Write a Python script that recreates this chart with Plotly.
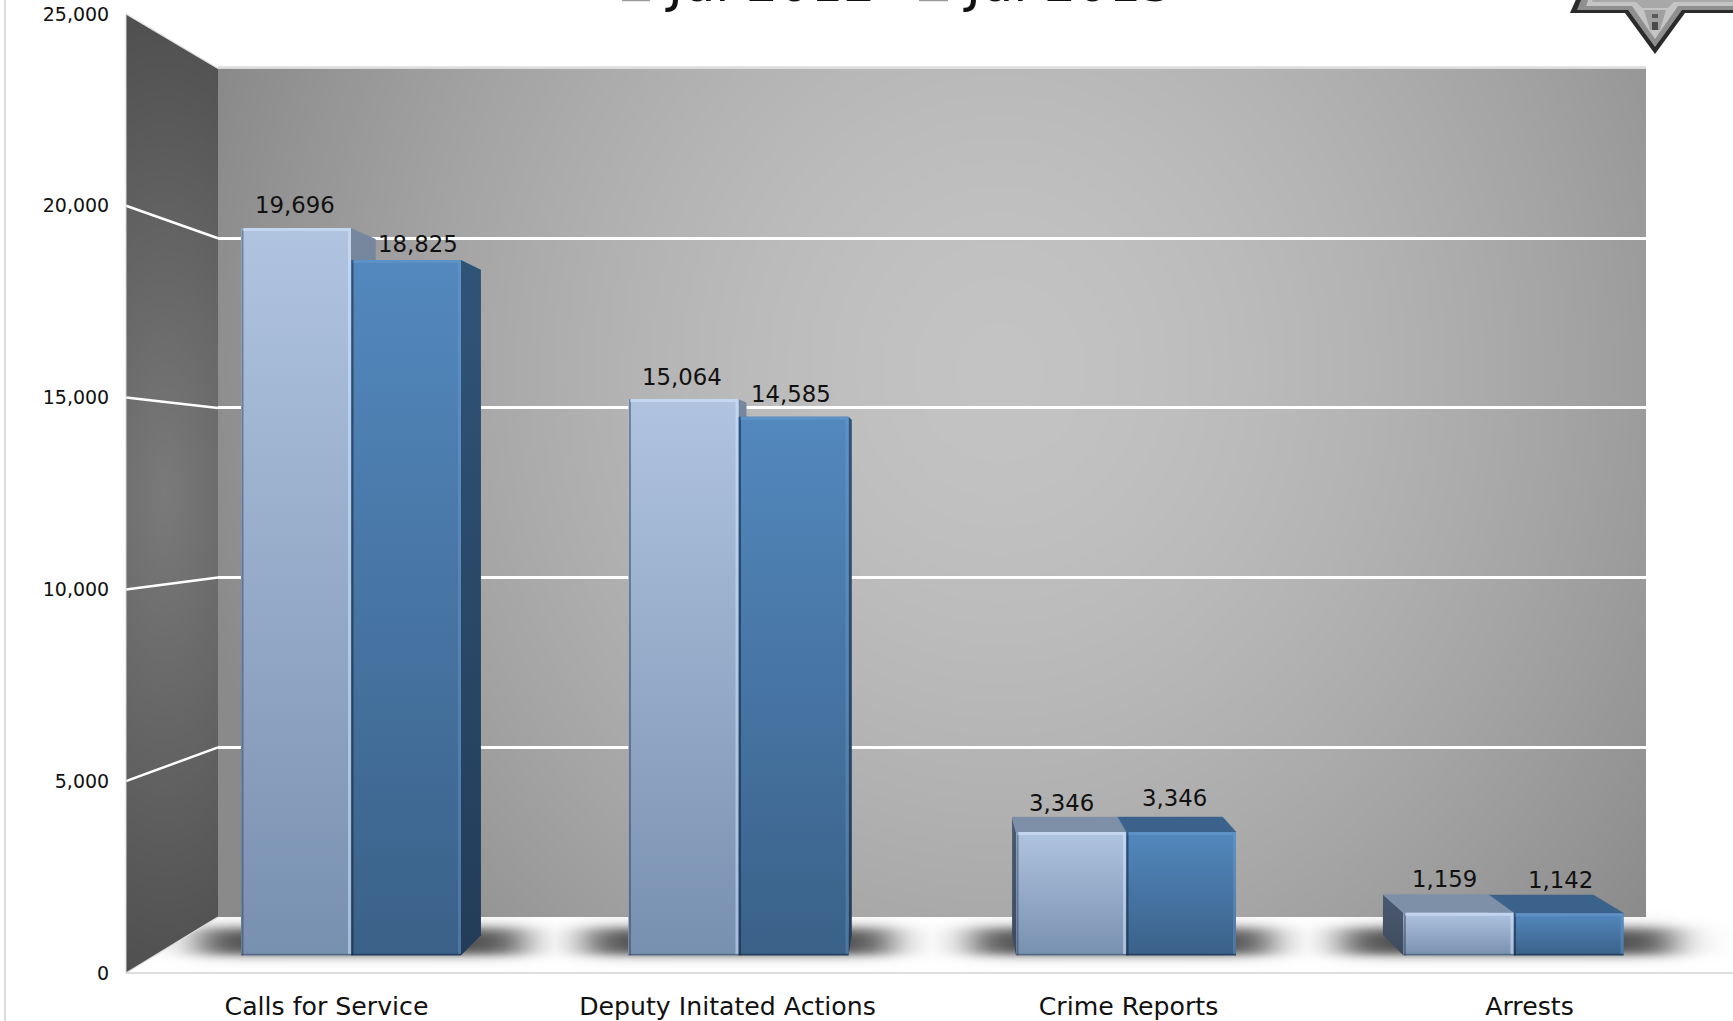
import base64, struct, zlib
import numpy as np
import plotly.graph_objects as go

# ---------- chart data ----------
categories = ["Calls for Service", "Deputy Initated Actions", "Crime Reports", "Arrests"]
jul_2012 = [19696, 15064, 3346, 1159]
jul_2013 = [18825, 14585, 3346, 1142]
y_ticks = [0, 5000, 10000, 15000, 20000, 25000]
series_names = ["Jul 2012", "Jul 2013"]

# ---------- page geometry (pixels) ----------
W, H = 1733, 1021
def xd(a, b): return [a / W, b / W]
def yd(bottom, top): return [1 - bottom / H, 1 - top / H]
def px(x): return x / W
def py(y): return 1 - y / H

BACK_L, BACK_R, BACK_B, BACK_T = 218, 1646, 917, 68.5
FRONT_L, FRONT_R, FRONT_B, FRONT_T = 126, 1730, 973, 14
BAR_L, BAR_R, BAR_B, BAR_T = 157.25, 1707.25, 955.5, 32
Y_MAX = 25000
X_RANGE = [-0.5, 3.5]
PX_PER_X = (BAR_R - BAR_L) / 4
PX_PER_Y = (BAR_B - BAR_T) / Y_MAX
BAR_W = 110 / PX_PER_X
VP_X = (925 - BAR_L) / PX_PER_X - 0.5      # vanishing point in bar-plane data units
VP_Y = (BAR_B - 487) / PX_PER_Y
DEPTH = 0.043


# ---------- background picture: walls, floor, soft shadows ----------
def png_uri(rgb):
    h, w, _ = rgb.shape
    raw = b"".join(b"\x00" + rgb[i].tobytes() for i in range(h))
    def chunk(t, d):
        return struct.pack(">I", len(d)) + t + d + struct.pack(">I", zlib.crc32(t + d) & 0xffffffff)
    data = (b"\x89PNG\r\n\x1a\n" + chunk(b"IHDR", struct.pack(">IIBBBBB", w, h, 8, 2, 0, 0, 0))
            + chunk(b"IDAT", zlib.compress(raw, 9)) + chunk(b"IEND", b""))
    return "data:image/png;base64," + base64.b64encode(data).decode()


yy, xx = np.mgrid[0:H, 0:W].astype(float) + 0.5
canvas = np.full((H, W), 255.0)

# floor shadows
shadow_spans = [(200, 522), (588, 890), (974, 1270), (1344, 1672)]
alpha = np.zeros_like(xx)
for a, b in shadow_spans:
    cx = (np.tanh((xx - a) / 27) - np.tanh((xx - b) / 27)) / 2
    cy = (np.tanh((yy - 928) / 7) - np.tanh((yy - 955) / 6)) / 2
    alpha = np.maximum(alpha, 0.88 * cx * cy)
canvas = canvas * (1 - alpha) + 50 * alpha

# back wall
r = np.sqrt(((xx - 1000) / 820) ** 2 + ((yy - 370) / 900) ** 2)
wall = np.clip(195 - 57 * r ** 1.6, 138, 195)
mx = np.clip(xx - BACK_L + 0.5, 0, 1) * np.clip(BACK_R - xx + 0.5, 0, 1)
my = np.clip(yy - BACK_T + 0.5, 0, 1) * np.clip(BACK_B - yy + 0.5, 0, 1)
m = mx * my
canvas = canvas * (1 - m) + wall * m

# side wall
t = (xx - FRONT_L) / (BACK_L - FRONT_L)
top_line = FRONT_T + t * (BACK_T - FRONT_T)
bot_line = FRONT_B + t * (BACK_B - FRONT_B)
r = np.sqrt(((xx - 165) / 170) ** 2 + ((yy - 495) / 480) ** 2)
side = np.clip(122 - 42 * r, 80, 122)
m = (np.clip(xx - FRONT_L + 0.5, 0, 1) * np.clip(BACK_L - xx + 0.5, 0, 1)
     * np.clip(yy - top_line + 0.5, 0, 1) * np.clip(bot_line - yy + 0.5, 0, 1))
canvas = canvas * (1 - m) + side * m
background = np.repeat(np.round(canvas).astype(np.uint8)[:, :, None], 3, axis=2)

# ---------- bar styling ----------
styles = [
    dict(base="#9AAECB", face=("#7890B0", "#B0C4E0"), side=("#5F7188", "#76879E"), top="#7E90A8",
         left=("#3E4B5E", "#4A5A70"), hi="rgba(215,232,255,0.5)", lo="rgba(50,65,90,0.5)"),
    dict(base="#4A78A8", face=("#3A6188", "#5388BE"), side=("#233C58", "#305478"), top="#3A628A",
         left=("#233C58", "#305478"), hi="rgba(120,170,220,0.3)", lo="rgba(20,35,60,0.55)"),
]
values = [jul_2012, jul_2013]
offsets = [-BAR_W, 0.0]
label_dx = [[-1.5, -2, -10, -14], [12, -3, -6.5, -8]]
label_dy = [[22.5, 22, 29, 33.5], [16.6, 23.2, 34, 33.3]]

AX = dict(xaxis="x3", yaxis="y3")
fig = go.Figure()

# placeholders that keep the back and front axes alive
fig.add_trace(go.Scatter(x=[0, 1, 2, 3], y=[0, 0, 0, 0], mode="none", xaxis="x", yaxis="y", hoverinfo="skip", showlegend=False))
fig.add_trace(go.Scatter(x=[0, 1, 2, 3], y=[0, 0, 0, 0], mode="none", xaxis="x2", yaxis="y2", hoverinfo="skip", showlegend=False))

# base bars from the data
for s, name in enumerate(series_names):
    fig.add_trace(go.Bar(x=[0, 1, 2, 3], y=values[s], name=name, marker=dict(color=styles[s]["base"], line_width=0),
                         showlegend=False, hoverinfo="skip", **AX))


def back(x, y):
    return x + DEPTH * (VP_X - x), y + DEPTH * (VP_Y - y)


def poly(xs, ys, colors, lo=None, hi=None):
    if isinstance(colors, str):
        fig.add_trace(go.Scatter(x=xs, y=ys, mode="lines", line=dict(width=0.5, color=colors), fill="toself",
                                 fillcolor=colors, hoverinfo="skip", showlegend=False, **AX))
    else:
        fig.add_trace(go.Scatter(x=xs, y=ys, mode="lines", line=dict(width=0), fill="toself",
                                 fillgradient=dict(type="vertical", colorscale=[[0, colors[0]], [1, colors[1]]],
                                                   start=lo, stop=hi),
                                 hoverinfo="skip", showlegend=False, **AX))


def draw_bar(c, s):
    st = styles[s]
    v = values[s][c]
    x0 = c + offsets[s]
    x1 = x0 + BAR_W
    # side face
    if x1 < VP_X:
        bx0, by0 = back(x1, 0)
        bx1, by1 = back(x1, v)
        poly([x1, bx0, bx1, x1, x1], [0, by0, by1, v, 0], st["side"], 0, max(by1, v))
    if x0 > VP_X:
        bx0, by0 = back(x0, 0)
        bx1, by1 = back(x0, v)
        poly([x0, bx0, bx1, x0, x0], [0, by0, by1, v, 0], st["left"], 0, max(by1, v))
    # top face
    if v < VP_Y:
        ax, ay = back(x0, v)
        bx, by = back(x1, v)
        poly([x0, ax, bx, x1, x0], [v, ay, by, v, v], st["top"])
    # front face
    poly([x0, x1, x1, x0, x0], [0, 0, v, v, 0], st["face"], 0, v)
    # bevel strips
    ix, iy = 1.5 / PX_PER_X, 1.5 / PX_PER_Y
    fig.add_trace(go.Scatter(x=[x0 + ix, x0 + ix, None, x0, x1],
                             y=[0, v, None, iy / 2, iy / 2], mode="lines",
                             line=dict(color=st["lo"], width=2), hoverinfo="skip", showlegend=False, **AX))
    fig.add_trace(go.Scatter(x=[x0 + ix, x1 - ix, x1 - ix], y=[v - iy, v - iy, iy], mode="lines",
                             line=dict(color=st["hi"], width=3), hoverinfo="skip", showlegend=False, **AX))


for c in range(len(categories)):
    # paint farther-from-centre neighbour order so inner faces stay hidden
    order = [0, 1] if c + offsets[1] < VP_X else [1, 0]
    for s in order:
        draw_bar(c, s)

# ---------- gridlines on the side wall, frame lines, page border ----------
shapes = []
y_front = lambda v: FRONT_B - (FRONT_B - FRONT_T) * v / Y_MAX
y_back = lambda v: BACK_B - (BACK_B - BACK_T) * v / Y_MAX
for v in y_ticks[1:-1]:
    shapes.append(dict(type="line", xref="paper", yref="paper", x0=px(FRONT_L), x1=px(BACK_L),
                       y0=py(y_front(v)), y1=py(y_back(v)), line=dict(color="white", width=2.5), layer="below"))
frame = [
    (FRONT_L, FRONT_T, BACK_L, BACK_T, "#DDDDDD", 1.2),
    (BACK_L, BACK_T - 1, BACK_R, BACK_T - 1, "#DDDDDD", 2.5),
    (FRONT_L, FRONT_B, BACK_L, BACK_B, "#DDDDDD", 1.2),
    (FRONT_L, FRONT_B, W, FRONT_B, "#D4D4D4", 1.5),
    (FRONT_L, FRONT_T, FRONT_L, FRONT_B, "#D8D8D8", 1),
    (5, 0, 5, H, "#DCDCDC", 2),
]
for x0, y0, x1, y1, col, w in frame:
    shapes.append(dict(type="line", xref="paper", yref="paper", x0=px(x0), x1=px(x1), y0=py(y0), y1=py(y1),
                       line=dict(color=col, width=w), layer="below"))


def path(points):
    return "M " + " L ".join(f"{px(a):.5f},{py(b):.5f}" for a, b in points) + " Z"


# badge, cut by the top of the page
star_layers = [
    ([(1578, -5), (1570, 13), (1625, 13), (1655, 54), (1685, 13), (1740, 13), (1735, -5)], "#2B2B2B"),
    ([(1583, -5), (1577, 10), (1628, 10), (1655, 47), (1682, 10), (1736, 10), (1733, -5)], "#8F8F8F"),
    ([(1590, -5), (1586, 6), (1632, 6), (1655, 39), (1678, 6), (1736, 6), (1733, -5)], "#C4C4C4"),
    ([(1594, -5), (1592, 2), (1636, 2), (1642, 8), (1668, 8), (1674, 2), (1733, 2), (1733, -5)], "#A8A8A8"),
    ([(1644, 10), (1666, 10), (1660, 30), (1650, 30)], "#A0A0A0"),
    ([(1652, 14), (1658, 14), (1658, 18), (1652, 18)], "#5A5A5A"),
    ([(1652, 22), (1658, 22), (1658, 30), (1652, 30)], "#4A4A4A"),
]
for pts, col in star_layers:
    shapes.append(dict(type="path", xref="paper", yref="paper", path=path(pts), fillcolor=col, line_width=0, layer="above"))

# legend swatches, cut by the top of the page
for a, b in [(622, 650), (919, 948)]:
    shapes.append(dict(type="rect", xref="paper", yref="paper", x0=px(a), x1=px(b), y0=py(1.2), y1=py(-6),
                       fillcolor="#9A9A9A", line_width=0))

# ---------- text ----------
annotations = []
for s in range(2):
    for c, v in enumerate(values[s]):
        annotations.append(dict(x=c + offsets[s] + BAR_W / 2, y=v, xref="x3", yref="y3", text=f"{v:,}", showarrow=False,
                                xanchor="center", yanchor="middle", xshift=label_dx[s][c], yshift=label_dy[s][c],
                                font=dict(family="DejaVu Sans", size=22.8, color="#111111")))
for name, x_left in zip(series_names, [663, 961]):
    annotations.append(dict(x=px(x_left), y=py(14.5), xref="paper", yref="paper", text=name, showarrow=False,
                            xanchor="left", yanchor="bottom",
                            font=dict(family="DejaVu Sans", size=51, color="#111111")))

hidden = dict(visible=False, fixedrange=True)
fig.update_layout(
    width=W, height=H, autosize=False, margin=dict(l=0, r=0, t=0, b=0, pad=0),
    paper_bgcolor="white", plot_bgcolor="rgba(0,0,0,0)", showlegend=False, hovermode=False,
    barmode="group", bargap=1 - 2 * BAR_W, bargroupgap=0,
    images=[dict(source=png_uri(background), xref="paper", yref="paper", x=0, y=1, sizex=1, sizey=1,
                 sizing="stretch", xanchor="left", yanchor="top", layer="below")],
    shapes=shapes, annotations=annotations,
    # back wall: gridlines
    xaxis=dict(domain=xd(BACK_L, BACK_R), range=X_RANGE, showgrid=False, zeroline=False, showticklabels=False,
               ticks="", showline=False, anchor="y", fixedrange=True),
    yaxis=dict(domain=yd(BACK_B, BACK_T), range=[0, Y_MAX], tickvals=y_ticks[1:-1], showgrid=True, gridcolor="white",
               gridwidth=2.5, zeroline=False, showticklabels=False, ticks="", showline=False, anchor="x", fixedrange=True),
    # front edge: the labelled axes
    xaxis2=dict(domain=xd(FRONT_L, FRONT_R), range=X_RANGE, tickvals=[0, 1, 2, 3], ticktext=categories, showgrid=False,
                zeroline=False, showline=False, ticks="outside", ticklen=11, tickcolor="rgba(0,0,0,0)", anchor="y2",
                tickfont=dict(family="DejaVu Sans", size=25.2, color="#111111"), fixedrange=True, automargin=False),
    yaxis2=dict(domain=yd(FRONT_B, FRONT_T), range=[0, Y_MAX], tickvals=y_ticks, tickformat=",d", showgrid=False,
                zeroline=False, showline=False, ticks="outside", ticklen=12, tickcolor="rgba(0,0,0,0)", anchor="x2",
                tickfont=dict(family="DejaVu Sans", size=19, color="#111111"), fixedrange=True, automargin=False),
    # bar plane
    xaxis3=dict(domain=xd(BAR_L, BAR_R), range=X_RANGE, anchor="y3", **hidden),
    yaxis3=dict(domain=yd(BAR_B, BAR_T), range=[0, Y_MAX], anchor="x3", **hidden),
)

fig.write_html("out.html", config=dict(displayModeBar=False),
               post_script="document.body.style.margin='0';document.body.style.overflow='hidden';")
